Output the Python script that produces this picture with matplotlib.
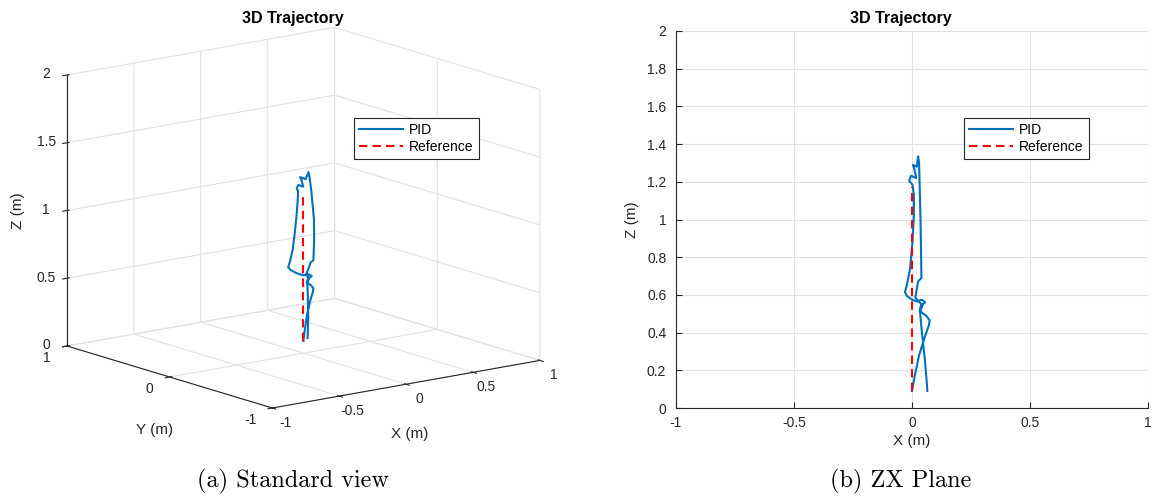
import numpy as np
import matplotlib
matplotlib.use('Agg')
import matplotlib.pyplot as plt
from matplotlib.ticker import FuncFormatter

# PID flight path (m)
pid_x = [0.000, 0.010, 0.030, 0.055, 0.072, 0.075, 0.060, 0.032, 0.038, 0.056,
         0.042, 0.020, 0.000, -0.022, -0.030, -0.022, -0.008, 0.002, 0.008, 0.008,
         0.002, -0.012, -0.004, 0.018, 0.010, 0.004, 0.020, 0.026, 0.030, 0.032,
         0.036, 0.038, 0.040, 0.026, 0.020, 0.014, 0.028, 0.045, 0.034, 0.042,
         0.055, 0.063, 0.065]
pid_y = [0.000, 0.002, 0.004, 0.004, 0.002, 0.000, 0.005, 0.010, 0.004, -0.008,
         0.000, 0.030, 0.060, 0.095, 0.110, 0.105, 0.095, 0.085, 0.075, 0.065,
         0.055, 0.050, 0.045, 0.025, 0.032, 0.038, 0.005, -0.015, -0.020, -0.035,
         -0.055, -0.055, -0.045, -0.035, -0.025, -0.010, 0.000, 0.004, 0.006, 0.012,
         0.025, 0.040, 0.045]
pid_z = [0.090, 0.160, 0.280, 0.380, 0.440, 0.465, 0.490, 0.515, 0.545, 0.560,
         0.575, 0.565, 0.575, 0.595, 0.615, 0.650, 0.740, 0.880, 1.020, 1.130,
         1.185, 1.205, 1.232, 1.220, 1.268, 1.290, 1.280, 1.335, 1.300, 1.200,
         1.000, 0.850, 0.690, 0.672, 0.630, 0.585, 0.565, 0.545, 0.510, 0.400,
         0.250, 0.130, 0.090]

# reference: straight climb above the origin
ref_x = [0.0, 0.0]
ref_y = [0.0, 0.0]
ref_z = [0.09, 1.17]

x_ticks = [-1, -0.5, 0, 0.5, 1]
y_ticks = [-1, 0, 1]
z_ticks_3d = [0, 0.5, 1, 1.5, 2]
z_ticks_2d = [0, 0.2, 0.4, 0.6, 0.8, 1, 1.2, 1.4, 1.6, 1.8, 2]

plt.rcParams.update({
    'font.family': 'Liberation Sans',
    'font.size': 10,
    'axes.edgecolor': '#262626',
    'axes.linewidth': 0.8,
    'axes.labelcolor': '#262626',
    'xtick.color': '#262626',
    'ytick.color': '#262626',
    'grid.color': '#e2e2e2',
    'grid.linewidth': 0.8,
    'axes.unicode_minus': False,
})

BLUE = '#0072BD'
DASH = (0, (4, 2.5))
INK = '#262626'
fmt = FuncFormatter(lambda v, _: f'{v:g}')
W, H = 1152, 501
BOX = (1, 1, 0.826)

fig = plt.figure(figsize=(W / 100, H / 100), dpi=100)

legend_kw = dict(loc='upper left', bbox_transform=fig.transFigure, borderaxespad=0,
                 fontsize=10, handlelength=3.15, handletextpad=0.45,
                 borderpad=0.38, labelspacing=0.2, fancybox=False,
                 edgecolor=INK, framealpha=1)

# (a) standard view
ax3 = fig.add_axes([0.0, 0.1, 0.52, 0.85], projection='3d')
ax3.set_facecolor('none')
ax3.set_proj_type('ortho')
ax3.view_init(elev=13.4, azim=-127.5)
ax3.computed_zorder = False
ax3.plot(pid_x, pid_y, pid_z, color=BLUE, lw=1.5, label='PID')
ax3.plot(ref_x, ref_y, ref_z, color='red', lw=1.5, ls=DASH, label='Reference')
ax3.set_xlim(-1, 1)
ax3.set_ylim(-1, 1)
ax3.set_zlim(0, 2)
ax3.set_xticks(x_ticks)
ax3.set_yticks(y_ticks)
ax3.set_zticks(z_ticks_3d)
for axis in (ax3.xaxis, ax3.yaxis, ax3.zaxis):
    axis.set_major_formatter(fmt)
    axis.set_pane_color((1, 1, 1, 0))
    axis.pane.set_edgecolor('#dcdcdc')
ax3.tick_params(axis='x', pad=2.5)
ax3.tick_params(axis='y', pad=1.5)
ax3.tick_params(axis='z', pad=-1)
ax3.text2D(155 / W, 1 - 430 / H, 'Y (m)', transform=fig.transFigure,
           ha='center', va='center', fontsize=11, color=INK)
ax3.text2D(410 / W, 1 - 434 / H, 'X (m)', transform=fig.transFigure,
           ha='center', va='center', fontsize=11, color=INK)
ax3.text2D(18 / W, 1 - 211 / H, 'Z (m)', transform=fig.transFigure,
           ha='center', va='center', fontsize=11, color=INK, rotation=90)
ax3.legend(bbox_to_anchor=(354 / W, 1 - 118 / H), **legend_kw).get_frame().set_linewidth(0.8)
ax3.set_box_aspect(BOX)


def corner(ax, x, y, z):
    v = ax.get_proj() @ np.array([x, y, z, 1.0])
    return ax.transData.transform((v[0] / v[3], v[1] / v[3]))


# scale and shift the 3D box so the z axis runs from y=346 to y=75 at x=67
fig.canvas.draw()
lo, hi = corner(ax3, -1, 1, 0), corner(ax3, -1, 1, 2)
ax3.set_box_aspect(BOX, zoom=271 / (hi[1] - lo[1]))
fig.canvas.draw()
lo = corner(ax3, -1, 1, 0)
p = ax3.get_position(original=True)
ax3.set_position([p.x0 + (67 - lo[0]) / W, p.y0 + (H - 346 - lo[1]) / H,
                  p.width, p.height])

# tick label anchoring for the 3D axes
plt.setp(ax3.xaxis.get_ticklabels(), va='bottom')
plt.setp(ax3.yaxis.get_ticklabels(), va='bottom', ha='right')
plt.setp(ax3.zaxis.get_ticklabels(), va='center')

# (b) ZX plane
ax2 = fig.add_axes([676 / W, 93 / H, 472 / W, 377 / H])
ax2.plot(pid_x, pid_z, color=BLUE, lw=1.5, label='PID')
ax2.plot(ref_x, ref_z, color='red', lw=1.5, ls=DASH, label='Reference')
ax2.set_xlim(-1, 1)
ax2.set_ylim(0, 2)
ax2.set_xticks(x_ticks)
ax2.set_yticks(z_ticks_2d)
ax2.xaxis.set_major_formatter(fmt)
ax2.yaxis.set_major_formatter(fmt)
ax2.grid(True)
ax2.set_axisbelow(True)
for s in ('top', 'right'):
    ax2.spines[s].set_visible(False)
ax2.tick_params(direction='in', length=4, labelsize=10)
ax2.tick_params(axis='x', pad=6)
ax2.tick_params(axis='y', pad=7)
ax2.set_xlabel('X (m)', fontsize=11, labelpad=3)
ax2.set_ylabel('Z (m)', fontsize=11, labelpad=6)
ax2.legend(bbox_to_anchor=(964 / W, 1 - 118 / H), **legend_kw).get_frame().set_linewidth(0.8)

for xc, title, caption in [(293, '3D Trajectory', '(a) Standard view'),
                           (901, '3D Trajectory', '(b) ZX Plane')]:
    fig.text(xc / W, 1 - 19 / H, title, ha='center', va='center',
             fontsize=11.5, fontweight='bold')
    fig.text(xc / W, 1 - 481 / H, caption, ha='center', va='center',
             fontname='cmr10', fontsize=17.5)

fig.savefig('out.png', dpi=100)
